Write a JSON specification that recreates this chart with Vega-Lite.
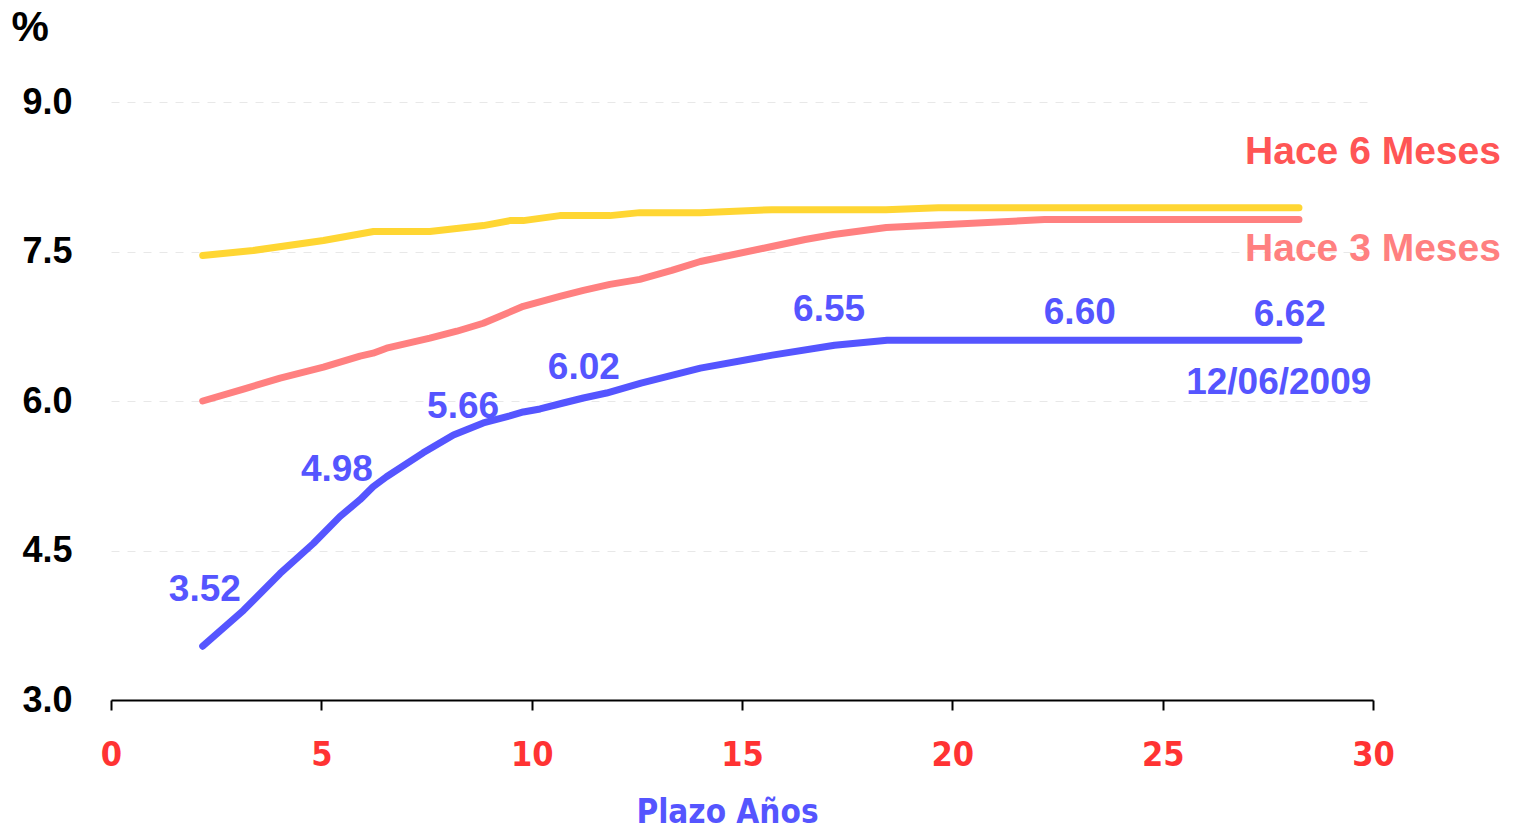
{
  "$schema": "https://vega.github.io/schema/vega-lite/v6.json",
  "width": 1262,
  "height": 598,
  "autosize": {"type": "none"},
  "padding": {"left": 111, "top": 102, "right": 141, "bottom": 132},
  "background": "white",
  "config": {"view": {"stroke": null}, "font": "Liberation Sans"},
  "datasets": {
    "curves": [
      {"serie": "Hace 6 Meses", "plazo": 2.18, "tasa": 7.46},
      {"serie": "Hace 6 Meses", "plazo": 3.38, "tasa": 7.51},
      {"serie": "Hace 6 Meses", "plazo": 5.05, "tasa": 7.61},
      {"serie": "Hace 6 Meses", "plazo": 6.24, "tasa": 7.70},
      {"serie": "Hace 6 Meses", "plazo": 7.58, "tasa": 7.70},
      {"serie": "Hace 6 Meses", "plazo": 8.85, "tasa": 7.76},
      {"serie": "Hace 6 Meses", "plazo": 9.48, "tasa": 7.81},
      {"serie": "Hace 6 Meses", "plazo": 9.80, "tasa": 7.81},
      {"serie": "Hace 6 Meses", "plazo": 10.67, "tasa": 7.86},
      {"serie": "Hace 6 Meses", "plazo": 11.86, "tasa": 7.86},
      {"serie": "Hace 6 Meses", "plazo": 12.57, "tasa": 7.89},
      {"serie": "Hace 6 Meses", "plazo": 14.01, "tasa": 7.89},
      {"serie": "Hace 6 Meses", "plazo": 15.71, "tasa": 7.92},
      {"serie": "Hace 6 Meses", "plazo": 18.42, "tasa": 7.92},
      {"serie": "Hace 6 Meses", "plazo": 19.67, "tasa": 7.94},
      {"serie": "Hace 6 Meses", "plazo": 28.24, "tasa": 7.94},
      {"serie": "Hace 3 Meses", "plazo": 2.18, "tasa": 6.00},
      {"serie": "Hace 3 Meses", "plazo": 3.15, "tasa": 6.12},
      {"serie": "Hace 3 Meses", "plazo": 4.02, "tasa": 6.23},
      {"serie": "Hace 3 Meses", "plazo": 5.05, "tasa": 6.34},
      {"serie": "Hace 3 Meses", "plazo": 5.92, "tasa": 6.45},
      {"serie": "Hace 3 Meses", "plazo": 6.23, "tasa": 6.48},
      {"serie": "Hace 3 Meses", "plazo": 6.55, "tasa": 6.53},
      {"serie": "Hace 3 Meses", "plazo": 7.58, "tasa": 6.63},
      {"serie": "Hace 3 Meses", "plazo": 8.22, "tasa": 6.70},
      {"serie": "Hace 3 Meses", "plazo": 8.85, "tasa": 6.78},
      {"serie": "Hace 3 Meses", "plazo": 9.80, "tasa": 6.95},
      {"serie": "Hace 3 Meses", "plazo": 10.67, "tasa": 7.05},
      {"serie": "Hace 3 Meses", "plazo": 11.23, "tasa": 7.11},
      {"serie": "Hace 3 Meses", "plazo": 11.86, "tasa": 7.17},
      {"serie": "Hace 3 Meses", "plazo": 12.57, "tasa": 7.22},
      {"serie": "Hace 3 Meses", "plazo": 13.33, "tasa": 7.31},
      {"serie": "Hace 3 Meses", "plazo": 14.01, "tasa": 7.40},
      {"serie": "Hace 3 Meses", "plazo": 15.71, "tasa": 7.55},
      {"serie": "Hace 3 Meses", "plazo": 16.50, "tasa": 7.62},
      {"serie": "Hace 3 Meses", "plazo": 17.18, "tasa": 7.67},
      {"serie": "Hace 3 Meses", "plazo": 18.43, "tasa": 7.74},
      {"serie": "Hace 3 Meses", "plazo": 22.19, "tasa": 7.82},
      {"serie": "Hace 3 Meses", "plazo": 28.24, "tasa": 7.82},
      {"serie": "12/06/2009", "plazo": 2.18, "tasa": 3.54},
      {"serie": "12/06/2009", "plazo": 3.15, "tasa": 3.90},
      {"serie": "12/06/2009", "plazo": 4.02, "tasa": 4.27},
      {"serie": "12/06/2009", "plazo": 4.81, "tasa": 4.57},
      {"serie": "12/06/2009", "plazo": 5.44, "tasa": 4.84},
      {"serie": "12/06/2009", "plazo": 5.92, "tasa": 5.01},
      {"serie": "12/06/2009", "plazo": 6.23, "tasa": 5.14},
      {"serie": "12/06/2009", "plazo": 6.55, "tasa": 5.24},
      {"serie": "12/06/2009", "plazo": 7.42, "tasa": 5.48},
      {"serie": "12/06/2009", "plazo": 8.14, "tasa": 5.66},
      {"serie": "12/06/2009", "plazo": 8.85, "tasa": 5.78},
      {"serie": "12/06/2009", "plazo": 9.48, "tasa": 5.85},
      {"serie": "12/06/2009", "plazo": 9.80, "tasa": 5.89},
      {"serie": "12/06/2009", "plazo": 10.20, "tasa": 5.92},
      {"serie": "12/06/2009", "plazo": 10.75, "tasa": 5.98},
      {"serie": "12/06/2009", "plazo": 11.23, "tasa": 6.03},
      {"serie": "12/06/2009", "plazo": 11.78, "tasa": 6.08},
      {"serie": "12/06/2009", "plazo": 12.60, "tasa": 6.18},
      {"serie": "12/06/2009", "plazo": 14.01, "tasa": 6.33},
      {"serie": "12/06/2009", "plazo": 15.72, "tasa": 6.46},
      {"serie": "12/06/2009", "plazo": 17.20, "tasa": 6.56},
      {"serie": "12/06/2009", "plazo": 18.45, "tasa": 6.61},
      {"serie": "12/06/2009", "plazo": 28.24, "tasa": 6.61}
    ],
    "labels": [
      {"tipo": "actual", "plazo": 2.23, "tasa": 4.10, "texto": "3.52"},
      {"tipo": "actual", "plazo": 5.37, "tasa": 5.31, "texto": "4.98"},
      {"tipo": "actual", "plazo": 8.37, "tasa": 5.94, "texto": "5.66"},
      {"tipo": "actual", "plazo": 11.24, "tasa": 6.33, "texto": "6.02"},
      {"tipo": "actual", "plazo": 17.07, "tasa": 6.91, "texto": "6.55"},
      {"tipo": "actual", "plazo": 23.03, "tasa": 6.88, "texto": "6.60"},
      {"tipo": "actual", "plazo": 28.02, "tasa": 6.86, "texto": "6.62"},
      {"tipo": "actual", "plazo": 27.76, "tasa": 6.18, "texto": "12/06/2009"}
    ],
    "hace": [
      {"tipo": "seis", "plazo": 30.0, "tasa": 8.50, "texto": "Hace 6 Meses"},
      {"tipo": "tres", "plazo": 30.0, "tasa": 7.53, "texto": "Hace 3 Meses"}
    ]
  },
  "layer": [
    {
      "data": {"name": "curves"},
      "mark": {"type": "line", "strokeWidth": 7, "strokeCap": "round", "strokeJoin": "round"},
      "encoding": {
        "x": {
          "field": "plazo", "type": "quantitative",
          "scale": {"domain": [0, 30], "nice": false, "zero": false},
          "axis": {
            "values": [0, 5, 10, 15, 20, 25, 30],
            "grid": false,
            "domainColor": "black", "domainWidth": 2,
            "tickColor": "black", "tickWidth": 2, "tickSize": 10,
            "labelFont": "Liberation Sans Narrow, DejaVu Sans Condensed, sans-serif",
            "labelFontSize": 34, "labelFontWeight": "bold", "labelColor": "#FF3333",
            "labelPadding": 28, "labelFlush": false,
            "title": "Plazo Años",
            "titleFont": "Liberation Sans Narrow, DejaVu Sans Condensed, sans-serif",
            "titleFontSize": 33, "titleFontWeight": "bold", "titleColor": "#5555FF",
            "titleX": 616, "titleY": 112, "titleBaseline": "middle", "titleAlign": "center"
          }
        },
        "y": {
          "field": "tasa", "type": "quantitative",
          "scale": {"domain": [3, 9], "nice": false, "zero": false},
          "axis": {
            "values": [3, 4.5, 6, 7.5, 9],
            "format": ".1f",
            "domain": false, "ticks": false,
            "grid": true, "gridDash": [8, 8], "gridColor": "#e8e8e8", "gridWidth": 1,
            "labelFontSize": 36, "labelFontWeight": "bold", "labelColor": "black",
            "labelPadding": 39,
            "title": "%", "titleAngle": 0, "titleAlign": "left", "titleBaseline": "middle",
            "titleX": -100, "titleY": -75,
            "titleFontSize": 42, "titleFontWeight": "bold", "titleColor": "black"
          }
        },
        "color": {
          "field": "serie", "type": "nominal",
          "scale": {"domain": ["Hace 6 Meses", "Hace 3 Meses", "12/06/2009"], "range": ["#FFD633", "#FF8080", "#5555FF"]},
          "legend": null
        }
      }
    },
    {
      "data": {"name": "labels"},
      "mark": {"type": "text", "fontWeight": "bold", "fontSize": 37, "baseline": "middle", "align": "center"},
      "encoding": {
        "x": {"field": "plazo", "type": "quantitative"},
        "y": {"field": "tasa", "type": "quantitative"},
        "text": {"field": "texto"},
        "color": {
          "field": "tipo", "type": "nominal",
          "scale": {"domain": ["actual", "seis", "tres"], "range": ["#5555FF", "#FF5555", "#FF8080"]},
          "legend": null
        }
      }
    },
    {
      "data": {"name": "hace"},
      "mark": {"type": "text", "fontWeight": "bold", "fontSize": 39, "baseline": "middle", "align": "center"},
      "encoding": {
        "x": {"field": "plazo", "type": "quantitative"},
        "y": {"field": "tasa", "type": "quantitative"},
        "text": {"field": "texto"},
        "color": {
          "field": "tipo", "type": "nominal",
          "scale": {"domain": ["actual", "seis", "tres"], "range": ["#5555FF", "#FF5555", "#FF8080"]},
          "legend": null
        }
      }
    }
  ],
  "resolve": {"scale": {"color": "independent"}}
}
